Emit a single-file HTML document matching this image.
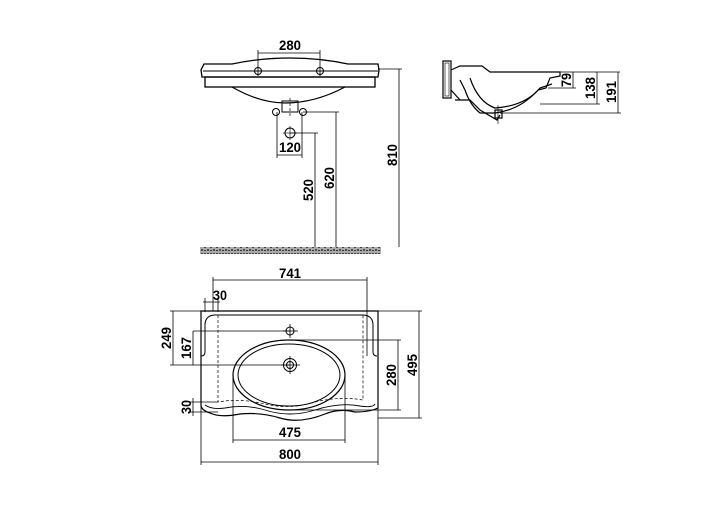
<!DOCTYPE html>
<html><head><style>html,body{margin:0;padding:0;background:#fff}svg{display:block}</style></head>
<body>
<svg width="702" height="510" viewBox="0 0 702 510" xmlns="http://www.w3.org/2000/svg" font-family="Liberation Sans, sans-serif" font-weight="bold" font-size="14">
<defs>
<pattern id="h" width="6" height="7" patternUnits="userSpaceOnUse">
<rect width="6" height="7" fill="#aaa"/><circle cx="1" cy="2" r="1" fill="#222"/><circle cx="4" cy="5" r="1" fill="#333"/><rect x="3" y="1" width="2" height="1" fill="#444"/><rect x="0" y="5" width="2" height="1" fill="#333"/>
</pattern>
</defs>
<g fill="none" stroke="#000" stroke-width="1">
<!-- front elevation -->
<path d="M204 64 L232 64 Q260 58 290 58 Q320 58 348 64 L378 64 L379 70 L378 77 L202 77 L201 70 Z" stroke-width="1.3"/>
<line x1="203" y1="71" x2="378" y2="71"/>
<rect x="205" y="77" width="170" height="10" stroke-width="1.3"/>
<path d="M232 87 Q260 103 285 103 Q315 103 345 87" stroke-width="1.2"/>
<rect x="282" y="101" width="16" height="11"/>
<line x1="290" y1="98" x2="290" y2="116" stroke-dasharray="3,2" stroke-width="0.7"/>
<circle cx="258" cy="71" r="3.5"/><circle cx="320" cy="71" r="3.5"/>
<circle cx="276" cy="112" r="3.5"/><circle cx="303" cy="112" r="3.5"/>
<circle cx="290" cy="133" r="5"/>
<line x1="283" y1="133" x2="297" y2="133" stroke-width="0.6"/><line x1="290" y1="126" x2="290" y2="140" stroke-width="0.6"/>
<g stroke-width="0.8">
<line x1="258" y1="50" x2="258" y2="76"/><line x1="320" y1="50" x2="320" y2="76"/><line x1="258" y1="53" x2="320" y2="53"/>
<line x1="277" y1="112" x2="277" y2="158"/><line x1="302" y1="112" x2="302" y2="158"/><line x1="277" y1="155" x2="302" y2="155"/>
<line x1="290" y1="133" x2="318" y2="133"/><line x1="315" y1="133" x2="315" y2="247"/>
<line x1="303" y1="112" x2="339" y2="112"/><line x1="336" y1="112" x2="336" y2="247"/>
<line x1="378" y1="69" x2="402" y2="69"/><line x1="399" y1="69" x2="399" y2="247"/>
</g>
<rect x="200" y="247" width="181" height="7" fill="url(#h)" stroke="none"/>
<!-- side view -->
<g stroke-width="1.2">
<rect x="443" y="61" width="8" height="37"/>
<rect x="445" y="63" width="4" height="33" stroke-width="0.6"/>
<path d="M451 70 L460 66 L482 66 L490 72 L560 72 L560 76 L550 78 L546 88 L538 90 Q520 110 495 113 L480 113 Q470 105 465 90 L460 80"/>
<path d="M455 100 L470 100 L480 110 L497 120 L500 115"/>
<path d="M451 90 L460 100"/>
<rect x="495" y="110" width="7" height="8"/>
<line x1="498" y1="105" x2="498" y2="124" stroke-width="0.6"/>
<path d="M470 78 Q478 102 495 108 Q525 106 540 88 L552 84"/>
</g>
<g stroke-width="0.8">
<line x1="550" y1="72" x2="620" y2="72"/>
<line x1="573" y1="72" x2="573" y2="88"/><line x1="548" y1="88" x2="576" y2="88"/>
<line x1="597" y1="72" x2="597" y2="104"/><line x1="540" y1="104" x2="600" y2="104"/>
<line x1="618" y1="72" x2="618" y2="113"/><line x1="500" y1="113" x2="621" y2="113"/>
</g>
<!-- plan view -->
<path d="M201 311 L378 311 L378 408 Q370 412 355 412 Q340 408 325 414 Q300 424 280 418 Q260 412 240 414 Q220 418 210 413 Q201 410 201 405 Z" stroke-width="1.2"/>
<path d="M214 315 L364 315 Q373 316 373 325 L373 352 Q373 356 377 356 M214 315 Q205 316 205 325 L205 352 Q205 356 201 356" stroke-width="1"/>
<path d="M205 405 Q212 410 225 408 Q245 404 265 410 Q290 418 315 410 Q340 402 360 406 Q373 408 375 404" stroke-width="0.9"/>
<path d="M218 315 L218 402 Q240 398 265 404 Q290 410 315 402 Q340 396 363 400 L363 315" stroke-dasharray="3,2" stroke-width="0.7"/>
<ellipse cx="289" cy="375" rx="56" ry="35" stroke-width="1.2"/>
<ellipse cx="289" cy="375" rx="51" ry="31"/>
<circle cx="290" cy="365" r="6.5"/><circle cx="290" cy="365" r="3.5"/>
<circle cx="290" cy="331" r="4"/>
<g stroke-width="0.8">
<line x1="283" y1="331" x2="298" y2="331"/><line x1="290" y1="324" x2="290" y2="338"/>
<line x1="281" y1="365" x2="300" y2="365"/><line x1="290" y1="356" x2="290" y2="374"/>
<line x1="213" y1="277" x2="213" y2="311"/><line x1="367" y1="277" x2="367" y2="356"/><line x1="213" y1="280" x2="367" y2="280"/>
<line x1="205" y1="298" x2="205" y2="312"/><line x1="218" y1="298" x2="218" y2="312"/><line x1="203" y1="302" x2="220" y2="302"/>
<line x1="170" y1="311" x2="201" y2="311"/><line x1="173" y1="311" x2="173" y2="365"/><line x1="170" y1="365" x2="290" y2="365"/>
<line x1="193" y1="331" x2="290" y2="331"/><line x1="193" y1="331" x2="193" y2="365"/>
<line x1="290" y1="340" x2="401" y2="340"/><line x1="290" y1="410" x2="401" y2="410"/><line x1="398" y1="340" x2="398" y2="410"/>
<line x1="378" y1="311" x2="422" y2="311"/><line x1="378" y1="418" x2="422" y2="418"/><line x1="419" y1="311" x2="419" y2="418"/>
<line x1="190" y1="402" x2="218" y2="402"/><line x1="190" y1="412" x2="218" y2="412"/><line x1="193" y1="398" x2="193" y2="416"/>
<line x1="233" y1="375" x2="233" y2="443"/><line x1="345" y1="375" x2="345" y2="443"/><line x1="233" y1="440" x2="345" y2="440"/>
<line x1="201" y1="405" x2="201" y2="465"/><line x1="378" y1="405" x2="378" y2="465"/><line x1="201" y1="462" x2="378" y2="462"/>
</g>
</g>
<g fill="#000" text-anchor="middle">
<text x="290" y="50" textLength="22" lengthAdjust="spacingAndGlyphs">280</text>
<text x="290" y="152" textLength="22" lengthAdjust="spacingAndGlyphs">120</text>
<text transform="translate(313,190) rotate(-90)" textLength="22" lengthAdjust="spacingAndGlyphs">520</text>
<text transform="translate(334,178) rotate(-90)" textLength="22" lengthAdjust="spacingAndGlyphs">620</text>
<text transform="translate(397,155) rotate(-90)" textLength="22" lengthAdjust="spacingAndGlyphs">810</text>
<text transform="translate(571,80) rotate(-90)" textLength="14" lengthAdjust="spacingAndGlyphs">79</text>
<text transform="translate(595,88) rotate(-90)" textLength="22" lengthAdjust="spacingAndGlyphs">138</text>
<text transform="translate(616,92) rotate(-90)" textLength="22" lengthAdjust="spacingAndGlyphs">191</text>
<text x="290" y="278" textLength="22" lengthAdjust="spacingAndGlyphs">741</text>
<text x="220" y="300" textLength="14" lengthAdjust="spacingAndGlyphs">30</text>
<text transform="translate(171,338) rotate(-90)" textLength="22" lengthAdjust="spacingAndGlyphs">249</text>
<text transform="translate(191,348) rotate(-90)" textLength="22" lengthAdjust="spacingAndGlyphs">167</text>
<text transform="translate(396,375) rotate(-90)" textLength="22" lengthAdjust="spacingAndGlyphs">280</text>
<text transform="translate(417,365) rotate(-90)" textLength="22" lengthAdjust="spacingAndGlyphs">495</text>
<text transform="translate(191,407) rotate(-90)" textLength="14" lengthAdjust="spacingAndGlyphs">30</text>
<text x="290" y="437" textLength="22" lengthAdjust="spacingAndGlyphs">475</text>
<text x="290" y="459" textLength="22" lengthAdjust="spacingAndGlyphs">800</text>
</g>
</svg>
</body></html>
